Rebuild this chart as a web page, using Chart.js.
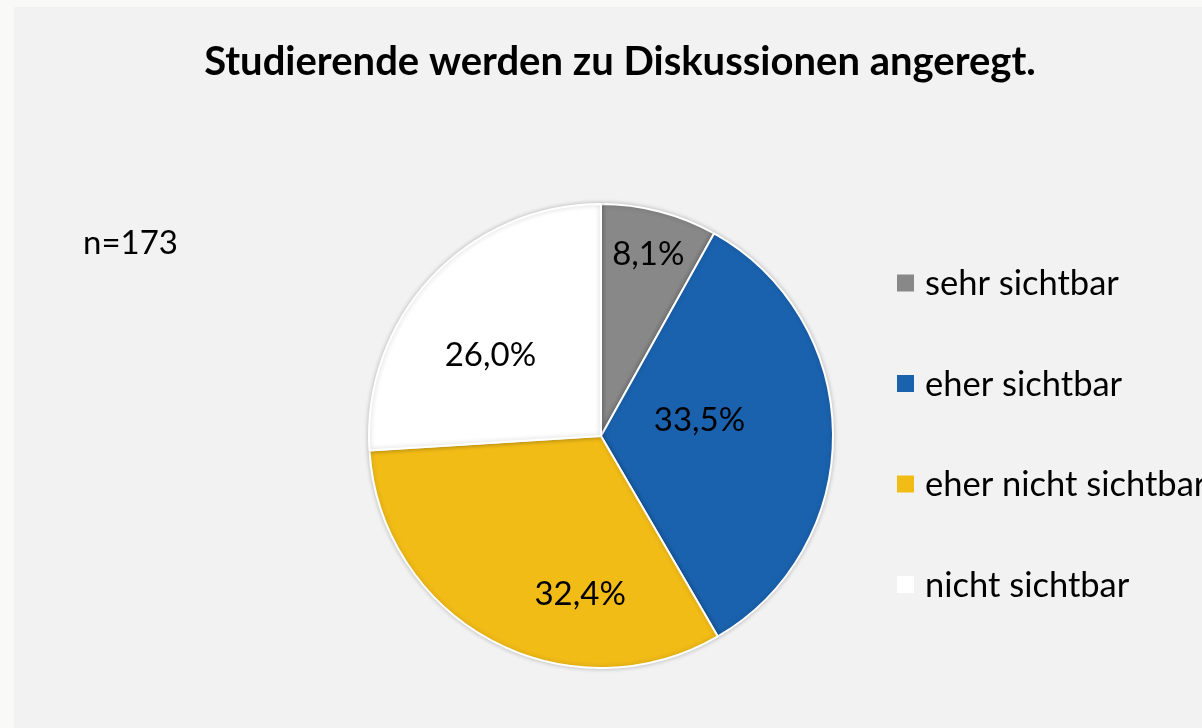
<!DOCTYPE html>
<html lang="de">
<head>
<meta charset="utf-8">
<title>Studierende werden zu Diskussionen angeregt.</title>
<script src="https://cdn.jsdelivr.net/npm/chart.js@4/dist/chart.umd.min.js"></script>
<style>
  html, body { margin: 0; padding: 0; background: #f9f9f8; overflow: hidden; }
  #frame { position: absolute; left: 14px; top: 7px; width: 1188px; height: 721px; background: #f2f2f2; }
  canvas { display: block; }
</style>
</head>
<body>
<div id="frame"><canvas id="pie" width="1188" height="721"></canvas></div>
<script>
// Survey answers (percent of respondents)
const categories = ['sehr sichtbar', 'eher sichtbar', 'eher nicht sichtbar', 'nicht sichtbar'];
const shares = [8.1, 33.5, 32.4, 26.0];
const sliceColors = ['#888888', '#1a62ae', '#f2bc17', '#ffffff'];
const chartTitle = 'Studierende werden zu Diskussionen angeregt.';
const sampleNote = 'n=173';

// Label placement inside each slice: radial fraction and angular shift (degrees)
const labelRadius = [0.81, 0.43, 0.69, 0.59];
const labelShift = [0, -8.5, -20.6, -7.1];

const FONT = 'Lato, "Open Sans", sans-serif';
const fmt = v => v.toFixed(1).replace('.', ',') + '%';

const shadowPlugin = {
  id: 'sliceShadow',
  beforeDatasetsDraw(chart) {
    const ctx = chart.ctx;
    ctx.save();
    ctx.shadowColor = 'rgba(0,0,0,0.22)';
    ctx.shadowBlur = 5;
    ctx.shadowOffsetX = 0;
    ctx.shadowOffsetY = 0;
  },
  afterDatasetsDraw(chart) {
    chart.ctx.restore();
  }
};

const decorPlugin = {
  id: 'decor',
  afterDraw(chart) {
    const ctx = chart.ctx;
    const meta = chart.getDatasetMeta(0);
    ctx.save();
    ctx.fillStyle = '#000';

    // title
    ctx.font = 'bold 40px ' + FONT;
    ctx.textAlign = 'center';
    ctx.textBaseline = 'middle';
    ctx.fillText(chartTitle, 606, 55);

    // sample size
    ctx.font = '33px ' + FONT;
    ctx.textAlign = 'left';
    ctx.fillText(sampleNote, 69, 236);

    // slice labels
    ctx.font = '33px ' + FONT;
    ctx.textAlign = 'center';
    meta.data.forEach((arc, i) => {
      const p = arc.getProps(['x', 'y', 'startAngle', 'endAngle', 'outerRadius'], true);
      const a = (p.startAngle + p.endAngle) / 2 + labelShift[i] * Math.PI / 180;
      const r = p.outerRadius * labelRadius[i];
      ctx.fillText(fmt(chart.data.datasets[0].data[i]), p.x + Math.cos(a) * r, p.y + Math.sin(a) * r);
    });

    // legend
    ctx.font = '34.5px ' + FONT;
    ctx.textAlign = 'left';
    chart.data.labels.forEach((lab, i) => {
      const cy = 276 + i * 100.5;
      ctx.fillStyle = sliceColors[i];
      ctx.fillRect(883, cy - 8.5, 17, 17);
      ctx.fillStyle = '#000';
      ctx.fillText(lab, 911, cy + 1);
    });
    ctx.restore();
  }
};

new Chart(document.getElementById('pie'), {
  type: 'pie',
  data: {
    labels: categories,
    datasets: [{
      data: shares,
      backgroundColor: sliceColors,
      borderColor: '#ffffff',
      borderWidth: 2
    }]
  },
  options: {
    responsive: false,
    animation: false,
    devicePixelRatio: 1,
    layout: { padding: { top: 196, bottom: 59, left: 354, right: 368 } },
    plugins: {
      legend: { display: false },
      title: { display: false },
      tooltip: { enabled: false }
    }
  },
  plugins: [shadowPlugin, decorPlugin]
});
</script>
</body>
</html>
